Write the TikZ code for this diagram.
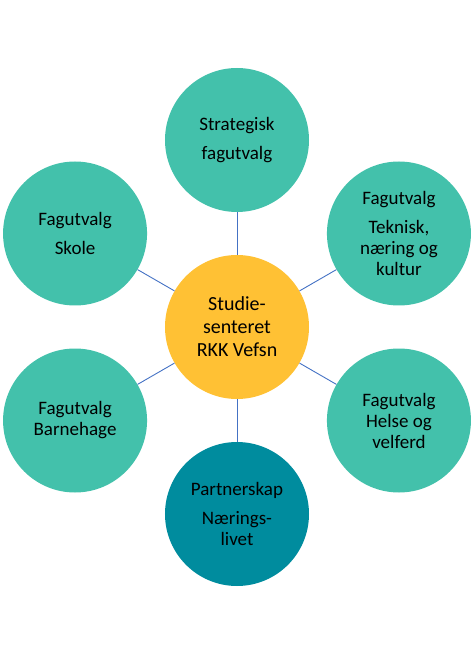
\documentclass[tikz,border=0pt]{standalone}
\usepackage{fontspec}
\setmainfont{Carlito}
\definecolor{fagteal}{HTML}{43C1AB}
\definecolor{senteryellow}{HTML}{FFC134}
\definecolor{partnerteal}{HTML}{008C9E}
\definecolor{linkblue}{HTML}{4472C4}
\begin{document}
\begin{tikzpicture}[
unit/.style={circle,minimum size=144pt,inner sep=0pt,align=center,
font=\fontsize{19}{21}\selectfont,text=black},
link/.style={draw=linkblue,line width=0.9pt}]
\useasboundingbox (-237pt,-326pt) rectangle (237pt,327pt);
\node[unit,fill=senteryellow,font=\fontsize{20}{23}\selectfont] (senter) at (0,0) {Studie-\\senteret\\RKK Vefsn};
\node[unit,fill=fagteal] (strategisk) at (90:187pt) {Strategisk\\[8pt]fagutvalg};
\node[unit,fill=fagteal] (teknisk) at (30:187pt) {Fagutvalg\\[8pt]Teknisk,\\næring og\\kultur};
\node[unit,fill=fagteal] (helse) at (-30:187pt) {Fagutvalg\\Helse og\\velferd};
\node[unit,fill=partnerteal] (partner) at (-90:187pt) {Partnerskap\\[8pt]Nærings-\\livet};
\node[unit,fill=fagteal] (barnehage) at (210:187pt) {Fagutvalg\\Barnehage};
\node[unit,fill=fagteal] (skole) at (150:187pt) {Fagutvalg\\[8pt]Skole};
\foreach \n in {strategisk,teknisk,helse,partner,barnehage,skole}
  \draw[link] (senter)--(\n);
\end{tikzpicture}
\end{document}
